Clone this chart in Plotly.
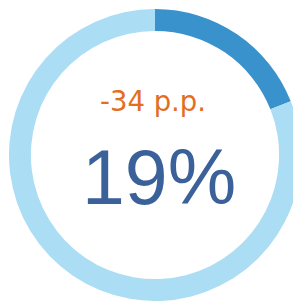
import plotly.graph_objects as go

labels = ["Value", "Remainder"]
values = [19, 81]
slice_colors = ["#3A92CD", "#ABDDF5"]
main_text = "19%"
delta_text = "-34 p.p."

W = 293
fig = go.Figure(go.Pie(
    labels=labels,
    values=values,
    hole=0.85,
    sort=False,
    direction="clockwise",
    rotation=0,
    textinfo="none",
    hoverinfo="skip",
    marker=dict(colors=slice_colors, line=dict(width=0)),
    domain=dict(x=[1/W, 1.0], y=[0.0, 292/W]),
    showlegend=False,
))

fig.add_annotation(x=145/W, y=1-93.4/W, xref="paper", yref="paper",
                   text=delta_text, showarrow=False, xanchor="center", yanchor="middle",
                   font=dict(family="DejaVu Sans", size=27.5, color="#E36F1E"))
fig.add_annotation(x=151/W, y=1-169.4/W, xref="paper", yref="paper",
                   text=main_text, showarrow=False, xanchor="center", yanchor="middle",
                   font=dict(family="Liberation Sans", size=77, color="#3A6199"))

fig.update_layout(width=W, height=W, margin=dict(l=0, r=0, t=0, b=0),
                  paper_bgcolor="white", plot_bgcolor="white")
fig.write_html("out.html")
